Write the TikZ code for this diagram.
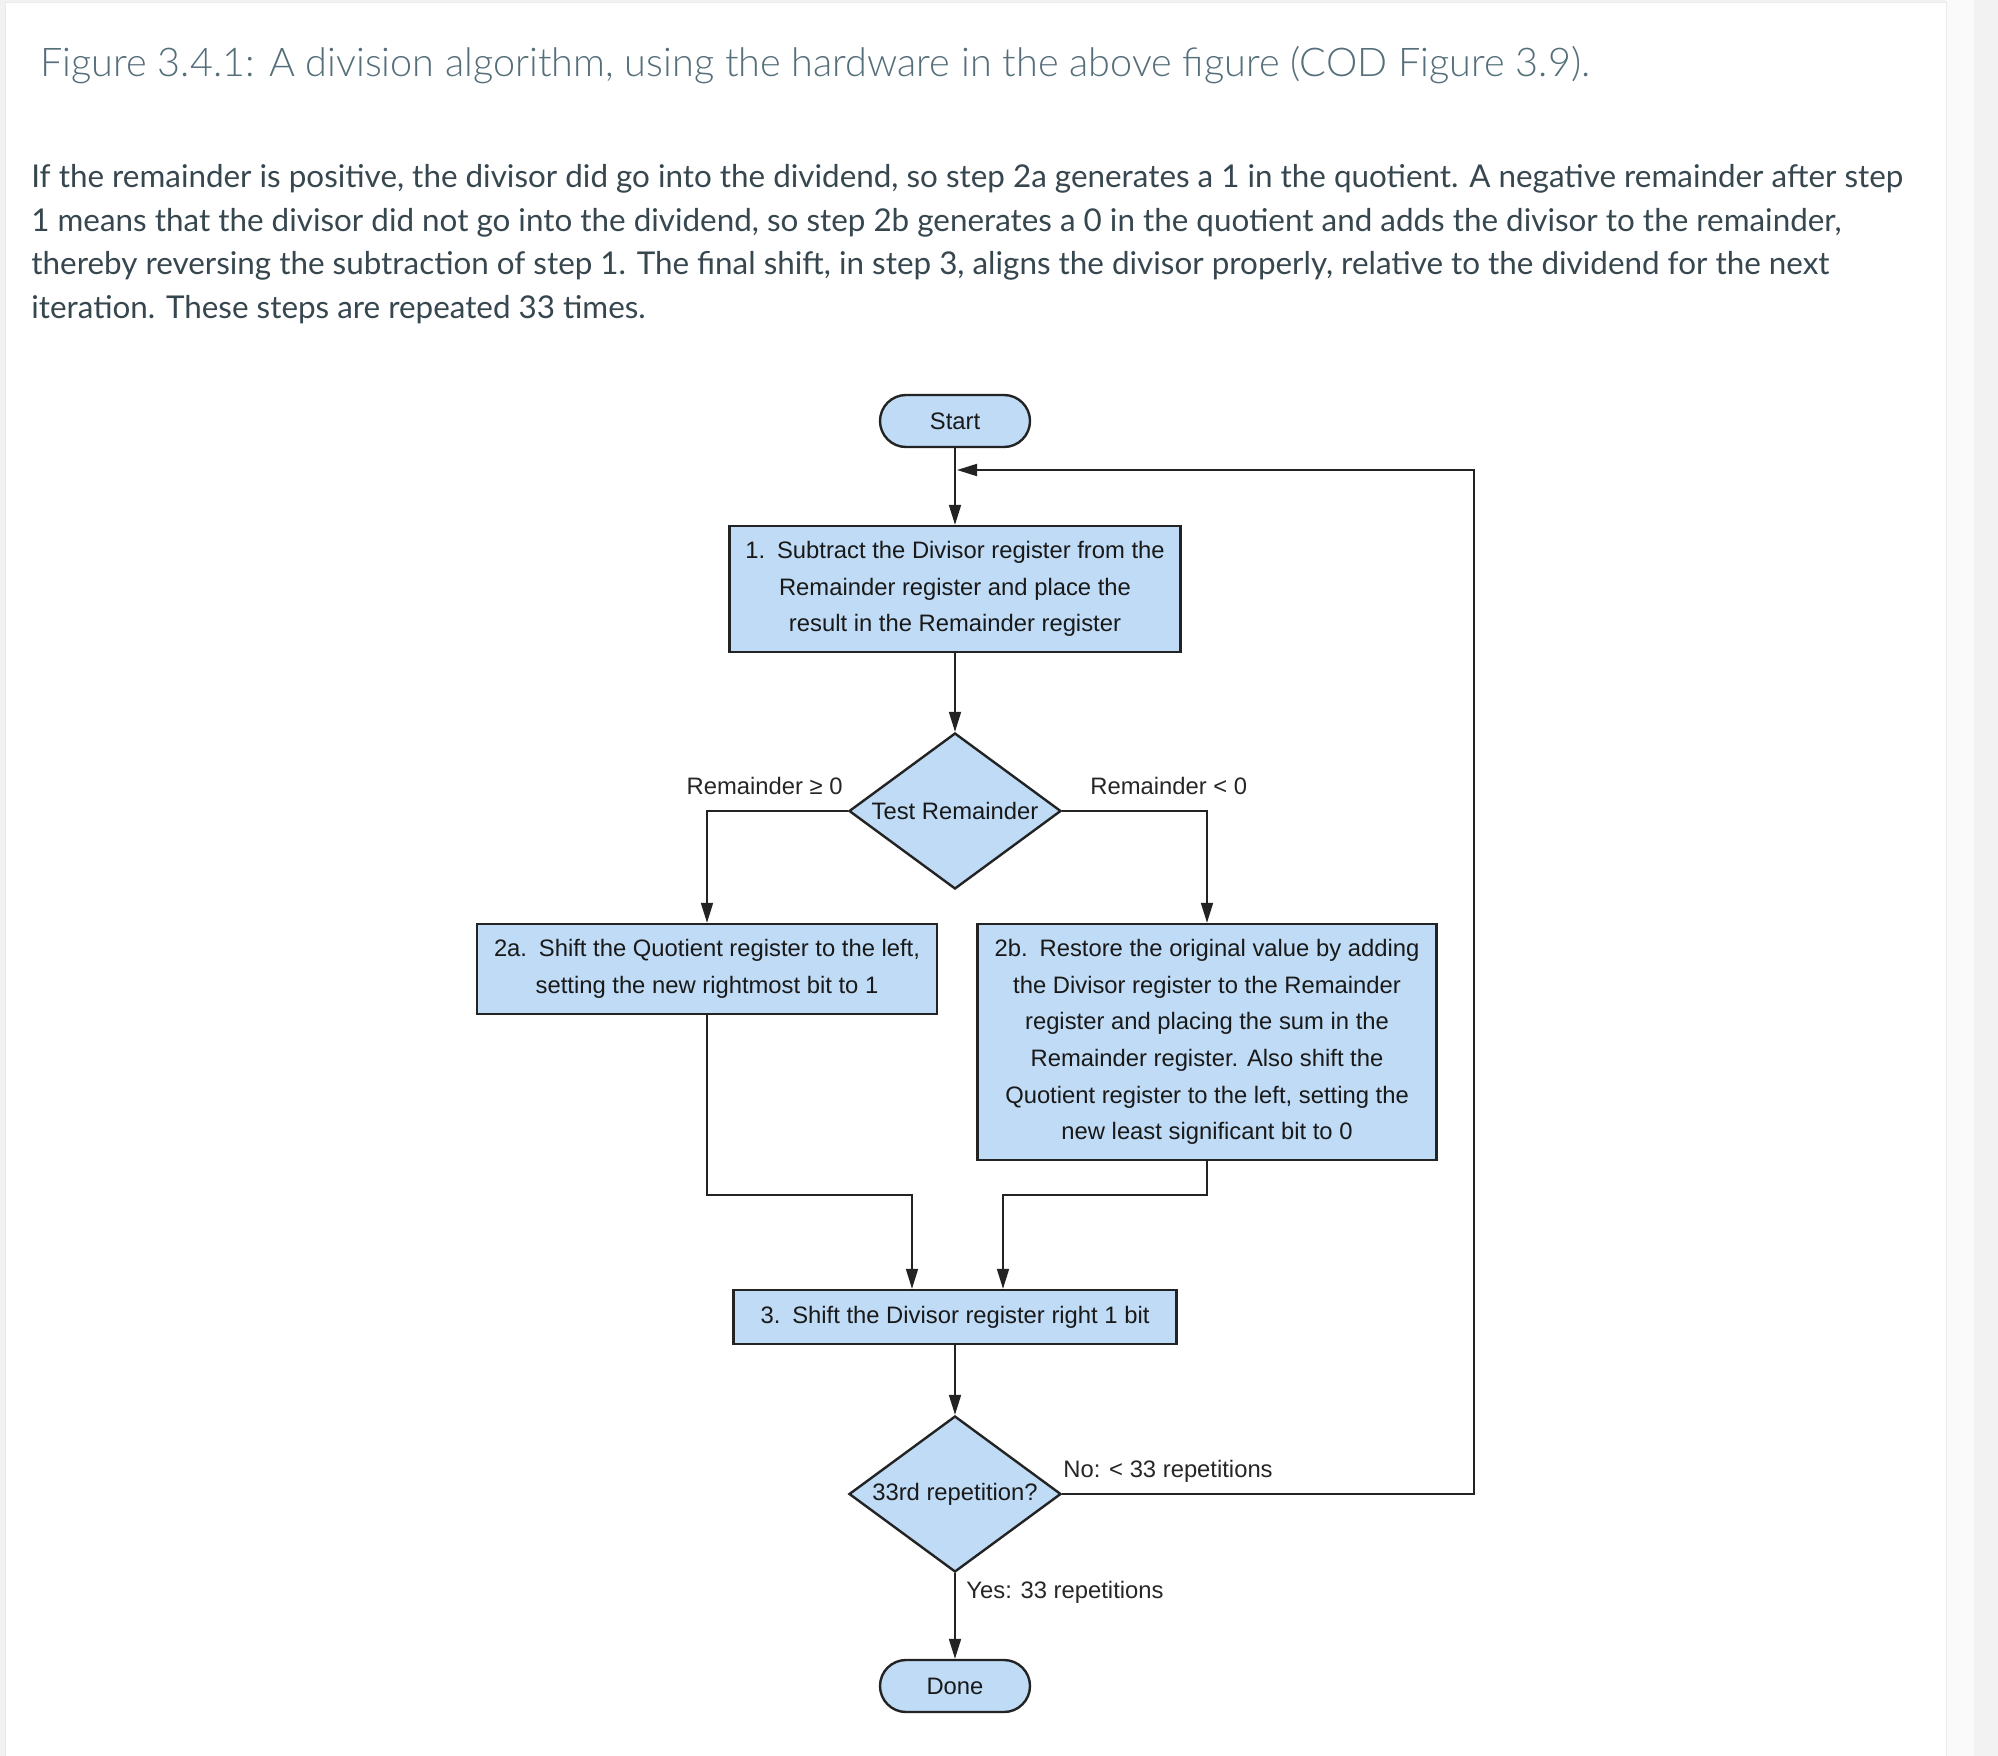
\documentclass[tikz,border=0pt]{standalone}
\usepackage{fontspec}
\setmainfont{Liberation Sans}
\newfontfamily\webfont{Lato}
\newfontfamily\weblight{Lato Light}
\usetikzlibrary{shapes.geometric, arrows.meta}
\definecolor{stepfill}{RGB}{191,219,245}
\definecolor{inkline}{RGB}{35,35,35}
\definecolor{titlegray}{RGB}{84,110,122}
\definecolor{bodygray}{RGB}{55,71,79}
\definecolor{pagebg}{RGB}{242,242,242}
\tikzset{
  stepbox/.style={draw=inkline, line width=1.2pt, fill=stepfill, align=center, inner sep=0pt,
    text=black!90, font=\fontsize{11.9}{18.3}\selectfont},
  decision/.style={diamond, draw=inkline, line width=1.2pt, fill=stepfill, inner sep=0pt, aspect=1.36,
    minimum width=106pt, minimum height=78pt, text=black!90, font=\fontsize{11.9}{13}\selectfont},
  terminal/.style={draw=inkline, line width=1.2pt, fill=stepfill, rounded corners=13pt,
    minimum width=75pt, minimum height=26pt, text=black!90, font=\fontsize{11.9}{13}\selectfont},
  flow/.style={draw=inkline, line width=0.9pt, -{Triangle[length=10pt,width=6pt]}},
  cond/.style={inner sep=0pt, text=black!85, font=\fontsize{11.9}{13}\selectfont},
}

\begin{document}
\begin{tikzpicture}[x=0.5pt, y=-0.5pt]
        \useasboundingbox (0,0) rectangle (1998,1756);
        \fill[pagebg] (0,0) rectangle (1998,1756);
        \fill[black!2] (1946,0) rectangle (1974,1756);
        \filldraw[fill=white, draw=black!8] (5,2) rectangle (1946,1760);

        \node[anchor=base west, inner sep=0pt, text=titlegray, font=\weblight\fontsize{19.8}{24}\selectfont]
            (caption) at (40,76) {Figure 3.4.1: A division algorithm, using the hardware in the above figure (COD Figure 3.9).};
        \node[anchor=base west, inner sep=0pt, text=bodygray, font=\webfont\fontsize{15.7}{18}\selectfont]
            (para1) at (31,187) {If the remainder is positive, the divisor did go into the dividend, so step 2a generates a 1 in the quotient. A negative remainder after step};
        \node[anchor=base west, inner sep=0pt, text=bodygray, font=\webfont\fontsize{15.7}{18}\selectfont]
            (para2) at (31,231) {1 means that the divisor did not go into the dividend, so step 2b generates a 0 in the quotient and adds the divisor to the remainder,};
        \node[anchor=base west, inner sep=0pt, text=bodygray, font=\webfont\fontsize{15.7}{18}\selectfont]
            (para3) at (31,274) {thereby reversing the subtraction of step 1. The final shift, in step 3, aligns the divisor properly, relative to the dividend for the next};
        \node[anchor=base west, inner sep=0pt, text=bodygray, font=\webfont\fontsize{15.7}{18}\selectfont]
            (para4) at (31,318) {iteration. These steps are repeated 33 times.};

        \node[terminal] (start) at (955,421) {Start};
        \node[stepbox, minimum width=225.5pt, minimum height=63pt] (subtract) at (955,589)
            {1.\enspace Subtract the Divisor register from the\\Remainder register and place the\\result in the Remainder register};
        \node[decision] (test) at (955,811) {Test Remainder};
        \node[stepbox, minimum width=230pt, minimum height=45pt] (shifta) at (707,969)
            {2a.\enspace Shift the Quotient register to the left,\\setting the new rightmost bit to 1};
        \node[stepbox, minimum width=229.5pt, minimum height=118pt] (restore) at (1207,1042)
            {2b.\enspace Restore the original value by adding\\the Divisor register to the Remainder\\register and placing the sum in the\\Remainder register. Also shift the\\Quotient register to the left, setting the\\new least significant bit to 0};
        \node[stepbox, minimum width=221.5pt, minimum height=27pt] (shiftdiv) at (955,1317)
            {3.\enspace Shift the Divisor register right 1 bit};
        \node[decision] (count) at (955,1494) {33rd repetition?};
        \node[terminal] (done) at (955,1686) {Done};

        \coordinate (loop) at (1474,470);
        \coordinate (join) at (957,470);
        \coordinate (mergea) at (912,1195);
        \coordinate (mergeb) at (1003,1195);

        \draw[flow] (start) -- (subtract);
        \draw[flow] (count.east) -| (loop) -- (join);
        \draw[flow] (subtract) -- (test);
        \draw[flow] (test.west) -| (shifta.north);
        \draw[flow] (test.east) -| (restore.north);
        \draw[flow] (shifta.south) |- (mergea) -- (mergea |- shiftdiv.north);
        \draw[flow] (restore.south) |- (mergeb) -- (mergeb |- shiftdiv.north);
        \draw[flow] (shiftdiv) -- (count);
        \draw[flow] (count) -- (done);

        \node[cond, anchor=east] (geq) at (843,786) {Remainder ≥ 0};
        \node[cond, anchor=west] (less) at (1090,786) {Remainder < 0};
        \node[cond, anchor=west] (again) at (1063,1471) {No: < 33 repetitions};
        \node[cond, anchor=west] (finish) at (966,1592) {Yes: 33 repetitions};
    \end{tikzpicture}
\end{document}
